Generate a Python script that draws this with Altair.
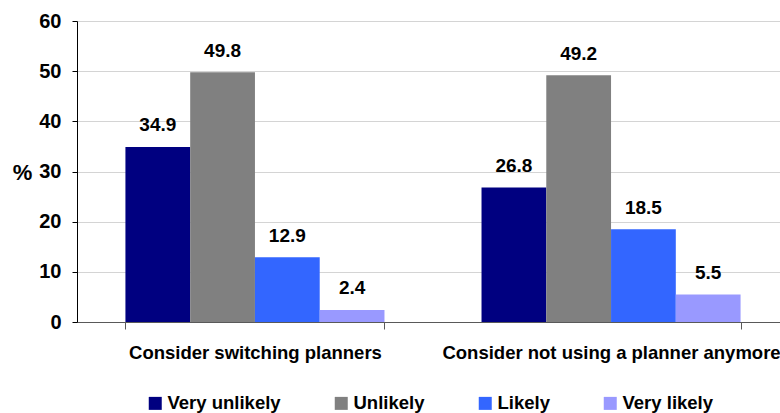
import altair as alt
import pandas as pd

# Survey answers, percentage of respondents per group
groups = ["Consider switching planners", "Consider not using a planner anymore"]
responses = ["Very unlikely", "Unlikely", "Likely", "Very likely"]
switching = [34.9, 49.8, 12.9, 2.4]
not_using = [26.8, 49.2, 18.5, 5.5]
colors = ["#000080", "#808080", "#3366FF", "#9999FF"]
y_ticks = [0, 10, 20, 30, 40, 50, 60]

rows = []
for grp, vals in zip(groups, [switching, not_using]):
    for resp, v in zip(responses, vals):
        rows.append({"group": grp, "response": resp, "value": v})
df = pd.DataFrame(rows)

FONT = "Liberation Sans"

x_enc = alt.X(
    "group:N",
    sort=groups,
    scale=alt.Scale(range=[0, 712], paddingInner=0.2725, paddingOuter=0.136),
    axis=alt.Axis(
        title=None,
        labelAngle=0,
        tickBand="extent",
        tickSize=7,
        domainColor="#595959",
        tickColor="#595959",
        labelFontSize=18.5,
        labelFontWeight="bold",
        labelColor="black",
        labelPadding=14,
        labelLimit=1000,
        labelOverlap=False,
    ),
)
xoff_enc = alt.XOffset(
    "response:N", sort=responses, scale=alt.Scale(paddingInner=0, paddingOuter=0)
)
y_enc = alt.Y(
    "value:Q",
    scale=alt.Scale(domain=[0, 60], nice=False),
    axis=alt.Axis(
        values=y_ticks,
        title="%",
        titleAngle=0,
        titleX=-55,
        titleY=151,
        titleAlign="center",
        titleBaseline="middle",
        titleFontSize=22,
        titleFontWeight="bold",
        titleColor="black",
        tickSize=5,
        labelPadding=11,
        labelFontSize=20,
        labelFontWeight="bold",
        labelColor="black",
        domainColor="black",
        tickColor="black",
        gridColor="#d4d4d4",
    ),
)

bars = alt.Chart(df).mark_bar().encode(
    x=x_enc,
    xOffset=xoff_enc,
    y=y_enc,
    color=alt.Color(
        "response:N",
        sort=responses,
        scale=alt.Scale(domain=responses, range=colors),
        legend=alt.Legend(
            title=None,
            orient="none",
            legendX=69,
            legendY=373,
            direction="horizontal",
            symbolType="square",
            symbolSize=169,
            symbolStrokeWidth=0,
            symbolOpacity=1,
            labelFontSize=18.5,
            labelFontWeight="bold",
            labelColor="black",
            labelOffset=3,
            labelLimit=300,
            columnPadding=51,
            padding=0,
        ),
    ),
)

labels = alt.Chart(df).mark_text(
    dy=-15.5, baseline="alphabetic", align="center",
    fontSize=19, fontWeight="bold", color="black",
).encode(
    x=alt.X("group:N", sort=groups),
    xOffset=alt.XOffset("response:N", sort=responses),
    y=alt.Y("value:Q"),
    text=alt.Text("value:Q", format=".1f"),
)

chart = (
    alt.layer(bars, labels)
    .properties(
        width=703,
        height=301,
        autosize="none",
        padding={"left": 77, "top": 21, "right": 0, "bottom": 91},
    )
    .configure(font=FONT)
    .configure_view(stroke=None)
)

chart.save("out.html", embed_options={"renderer": "svg", "actions": False})
